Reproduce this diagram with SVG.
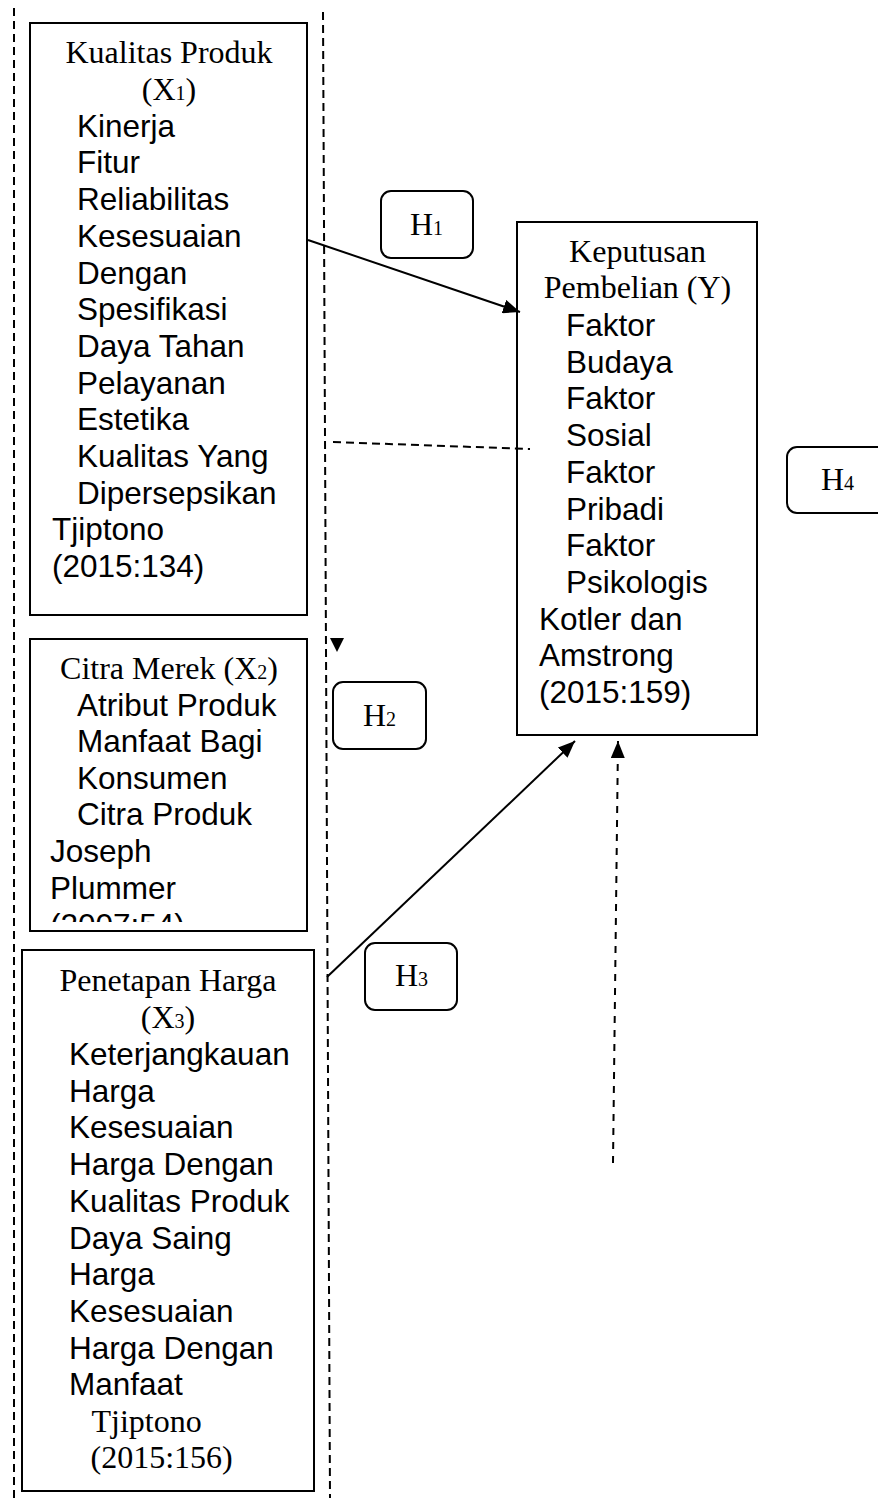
<svg xmlns="http://www.w3.org/2000/svg" width="878" height="1498" viewBox="0 0 878 1498">
<style>
.box{fill:#fff;stroke:#000;stroke-width:2}
.hbox{fill:#fff;stroke:#000;stroke-width:2}
.sans{font-family:"Liberation Sans",Arial,sans-serif;font-size:31.5px;fill:#000}
.serif{font-family:"Liberation Serif","Times New Roman",serif;font-size:32px;fill:#000}
.sub{font-size:20px}
.mid{text-anchor:middle}
.dash{fill:none;stroke:#000;stroke-width:2;stroke-dasharray:8 5}
.dash2{fill:none;stroke:#000;stroke-width:2;stroke-dasharray:7 7}
.solid{fill:none;stroke:#000;stroke-width:2}
</style>
<defs>
<marker id="ah" markerUnits="userSpaceOnUse" markerWidth="17" markerHeight="14" refX="17" refY="7" orient="auto">
<path d="M0,0 L17,7 L0,14 z" fill="#000"/>
</marker>
<clipPath id="clipX2"><rect x="30" y="639" width="277" height="283"/></clipPath>
</defs>
<rect width="878" height="1498" fill="#fff"/>

<g id="x1">
<rect class="box" x="30" y="23" width="277" height="592"/>
<text class="serif mid" x="169" y="62.7">Kualitas Produk</text>
<text class="serif mid" x="169" y="100">(X<tspan class="sub">1</tspan>)</text>
<text class="sans">
<tspan x="77" y="136.7">Kinerja</tspan>
<tspan x="77" y="173.4">Fitur</tspan>
<tspan x="77" y="210.1">Reliabilitas</tspan>
<tspan x="77" y="246.8">Kesesuaian</tspan>
<tspan x="77" y="283.5">Dengan</tspan>
<tspan x="77" y="320.2">Spesifikasi</tspan>
<tspan x="77" y="356.9">Daya Tahan</tspan>
<tspan x="77" y="393.6">Pelayanan</tspan>
<tspan x="77" y="430.3">Estetika</tspan>
<tspan x="77" y="467">Kualitas Yang</tspan>
<tspan x="77" y="503.7">Dipersepsikan</tspan>
<tspan x="52" y="540.4">Tjiptono</tspan>
<tspan x="52" y="577.1">(2015:134)</tspan>
</text>
</g>

<g id="x2">
<rect class="box" x="30" y="639" width="277" height="292"/>
<text class="serif mid" x="169" y="679.3">Citra Merek (X<tspan class="sub">2</tspan>)</text>
<text class="sans">
<tspan x="77" y="716">Atribut Produk</tspan>
<tspan x="77" y="752.2">Manfaat Bagi</tspan>
<tspan x="77" y="788.6">Konsumen</tspan>
<tspan x="77" y="825">Citra Produk</tspan>
<tspan x="50" y="861.7">Joseph</tspan>
<tspan x="50" y="898.5">Plummer</tspan>
</text>
<text class="sans" x="50" y="935.5" clip-path="url(#clipX2)">(2007:54)</text>
</g>

<g id="x3">
<rect class="box" x="22" y="950" width="292" height="541"/>
<text class="serif mid" x="168" y="990.7">Penetapan Harga</text>
<text class="serif mid" x="168" y="1028.3">(X<tspan class="sub">3</tspan>)</text>
<text class="sans">
<tspan x="69" y="1065">Keterjangkauan</tspan>
<tspan x="69" y="1101.7">Harga</tspan>
<tspan x="69" y="1138.4">Kesesuaian</tspan>
<tspan x="69" y="1175.1">Harga Dengan</tspan>
<tspan x="69" y="1211.8">Kualitas Produk</tspan>
<tspan x="69" y="1248.5">Daya Saing</tspan>
<tspan x="69" y="1285.2">Harga</tspan>
<tspan x="69" y="1321.9">Kesesuaian</tspan>
<tspan x="69" y="1358.6">Harga Dengan</tspan>
<tspan x="69" y="1395.3">Manfaat</tspan>
</text>
<text class="serif">
<tspan x="91.5" y="1431.7">Tjiptono</tspan>
<tspan x="90.5" y="1468.3">(2015:156)</tspan>
</text>
</g>

<g id="y">
<rect class="box" x="517" y="222" width="240" height="513"/>
<text class="serif mid" x="637.5" y="261.7">Keputusan</text>
<text class="serif mid" x="637.5" y="298.3">Pembelian (Y)</text>
<text class="sans">
<tspan x="566" y="336">Faktor</tspan>
<tspan x="566" y="372.7">Budaya</tspan>
<tspan x="566" y="409.4">Faktor</tspan>
<tspan x="566" y="446.1">Sosial</tspan>
<tspan x="566" y="482.8">Faktor</tspan>
<tspan x="566" y="519.5">Pribadi</tspan>
<tspan x="566" y="556.2">Faktor</tspan>
<tspan x="566" y="592.9">Psikologis</tspan>
<tspan x="539" y="629.6">Kotler dan</tspan>
<tspan x="539" y="666.3">Amstrong</tspan>
<tspan x="539" y="703">(2015:159)</tspan>
</text>
</g>

<g id="h1">
<rect class="hbox" x="381" y="191" width="92" height="67" rx="10"/>
<text class="serif" x="410" y="235">H<tspan class="sub">1</tspan></text>
</g>
<g id="h2">
<rect class="hbox" x="333" y="682" width="93" height="67" rx="10"/>
<text class="serif" x="363" y="726">H<tspan class="sub">2</tspan></text>
</g>
<g id="h3">
<rect class="hbox" x="365" y="943" width="92" height="67" rx="10"/>
<text class="serif" x="395" y="986">H<tspan class="sub">3</tspan></text>
</g>
<g id="h4">
<rect class="hbox" x="787" y="447" width="100" height="66" rx="10"/>
<text class="serif" x="821" y="490">H<tspan class="sub">4</tspan></text>
</g>

<g id="connectors">
<line class="dash" x1="14" y1="8" x2="14" y2="1498"/>
<line class="dash" x1="323" y1="12" x2="330" y2="1498"/>
<line class="dash" x1="333" y1="442" x2="530" y2="449"/>
<polygon points="330,638 344,638 337,652" fill="#000"/>
<line class="solid" x1="308" y1="240" x2="520" y2="312" marker-end="url(#ah)"/>
<line class="solid" x1="327" y1="977" x2="575" y2="741" marker-end="url(#ah)"/>
<line class="dash2" x1="613" y1="1163" x2="618" y2="741" marker-end="url(#ah)"/>
</g>
</svg>
